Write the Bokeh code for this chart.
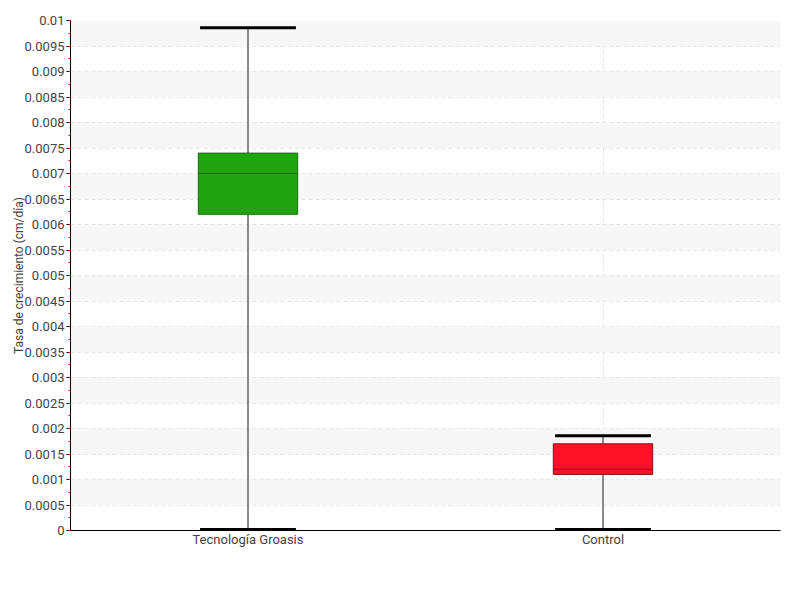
from bokeh.plotting import figure
from bokeh.models import SingleIntervalTicker, CustomJSTickFormatter, Range1d, FactorRange
from bokeh.embed import file_html
from bokeh.resources import INLINE

categories = ["Tecnología Groasis", "Control"]
lower = [0.0, 0.0]
q1 = [0.0062, 0.0011]
median = [0.0070, 0.0012]
q3 = [0.0074, 0.0017]
upper = [0.00986, 0.00186]
fills = ["#21a30f", "#ff1027"]
outlines = ["#1a6e10", "#8a0f1c"]

FONT = "Roboto"

p = figure(x_range=FactorRange(*categories, range_padding=0), y_range=Range1d(0, 0.01),
           width=792, height=592, output_backend="svg", toolbar_location=None,
           min_border_left=70, min_border_right=12, min_border_top=20, min_border_bottom=62)
p.outline_line_color = None

p.segment(x0=categories, y0=lower, x1=categories, y1=upper, line_color="#666666", line_width=1.5)
p.vbar(x=categories, width=0.28, bottom=q1, top=q3, fill_color=fills, line_color=outlines, line_width=1)
p.rect(x=categories, y=median, width=0.28, height=1, height_units="screen",
       fill_color=outlines, line_color=None)
p.rect(x=categories, y=upper, width=0.27, height=3, height_units="screen",
       fill_color="black", line_color=None)
p.rect(x=categories, y=lower, width=0.27, height=5, height_units="screen",
       fill_color="black", line_color=None)

p.yaxis.ticker = SingleIntervalTicker(interval=0.0005, num_minor_ticks=2)
p.yaxis.formatter = CustomJSTickFormatter(code="return parseFloat(tick.toFixed(4)).toString();")
p.yaxis.axis_label = "Tasa de crecimiento (cm/día)"
p.yaxis.axis_label_text_font = FONT
p.yaxis.axis_label_text_font_size = "12px"
p.yaxis.axis_label_text_font_style = "normal"
p.yaxis.axis_label_text_color = "#444444"
p.yaxis.axis_label_standoff = -4
p.yaxis.major_label_text_font = FONT
p.yaxis.major_label_text_font_size = "13px"
p.yaxis.major_label_text_color = "#444444"
p.yaxis.major_tick_out = 4
p.yaxis.major_tick_in = 0
p.yaxis.major_tick_line_color = "black"
p.yaxis.minor_tick_out = 2
p.yaxis.minor_tick_in = 0
p.yaxis.minor_tick_line_color = "red"
p.yaxis.axis_line_color = "black"
p.yaxis.major_label_standoff = 2

p.xaxis.major_tick_line_color = None
p.xaxis.minor_tick_line_color = None
p.xaxis.axis_line_color = "black"
p.xaxis.major_label_text_font = FONT
p.xaxis.major_label_text_font_size = "13px"
p.xaxis.major_label_text_color = "#444444"
p.xaxis.major_label_standoff = -5

p.ygrid.grid_line_color = "#e6e6e6"
p.ygrid.grid_line_dash = "4 3"
p.ygrid.band_fill_color = "#f7f7f7"
p.ygrid.band_fill_alpha = 1
p.xgrid.grid_line_color = "#e6e6e6"
p.xgrid.grid_line_dash = "4 3"

open("out.html", "w").write(file_html(p, INLINE))
